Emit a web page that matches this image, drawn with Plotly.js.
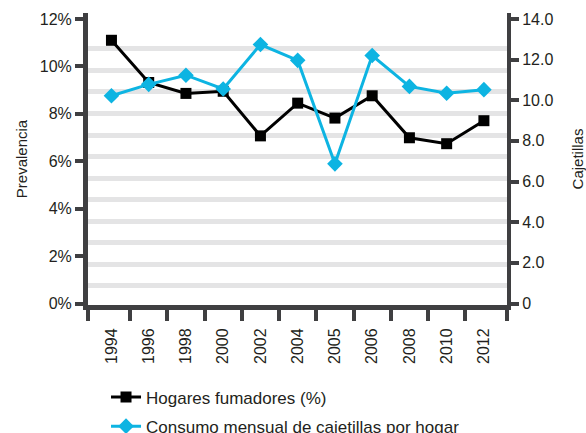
<!DOCTYPE html>
<html><head><meta charset="utf-8">
<script src="https://cdn.plot.ly/plotly-3.0.1.min.js"></script>
<style>html,body{margin:0;padding:0;background:#fff}#chart{width:586px;height:433px}</style>
</head><body><div id="chart"></div>
<script>
const years = ["1994","1996","1998","2000","2002","2004","2005","2006","2008","2010","2012"];
const hogaresFumadores = [11.1, 9.32, 8.86, 8.95, 7.07, 8.45, 7.82, 8.76, 6.99, 6.74, 7.71];
const consumoMensual = [10.22, 10.78, 11.23, 10.55, 12.74, 11.96, 6.87, 12.2, 10.68, 10.34, 10.52];
const leftTicks = [0, 2, 4, 6, 8, 10, 12];
const leftTickText = ["0%", "2%", "4%", "6%", "8%", "10%", "12%"];
const rightTicks = [0, 2, 4, 6, 8, 10, 12, 14];
const rightTickText = ["0", "2.0", "4.0", "6.0", "8.0", "10.0", "12.0", "14.0"];
const gridTicks = [1,2,3,4,5,6,7,8,9,10,11,12];
const dividerTicks = [-0.63, 0.5, 1.5, 2.5, 3.5, 4.5, 5.5, 6.5, 7.5, 8.5, 9.5, 10.62];

const FONT = "Liberation Sans, Arial, Helvetica, sans-serif";
const AX = "#3f3f41";
const CYAN = "#0db4e2";

const traces = [
  // empty helper trace so the divider-tick axis and grid axis get drawn (no data, no marks)
  {x: [], y: [], type: "scatter", mode: "markers", xaxis: "x2", yaxis: "y3", showlegend: false, hoverinfo: "skip"},
  {x: years, y: hogaresFumadores, name: "Hogares fumadores (%)", type: "scatter", mode: "lines+markers", legendgroup: "a",
   yaxis: "y", line: {color: "#000", width: 3}, marker: {symbol: "square", size: 11, color: "#000"}},
  {x: years, y: consumoMensual, name: "Consumo mensual de cajetillas por hogar", type: "scatter", mode: "lines+markers", legendgroup: "b",
   yaxis: "y2", line: {color: CYAN, width: 3}, marker: {symbol: "diamond", size: 12, color: CYAN}}
];

const layout = {
  width: 586, height: 433,
  margin: {l: 88, r: 78.5, t: 13, b: 127.5},
  paper_bgcolor: "#fff", plot_bgcolor: "rgba(0,0,0,0)",
  font: {family: FONT, size: 14, color: "#231f20"},
  showlegend: true,
  legend: {x: 0.043, xanchor: "left", y: 0.1235, yref: "container", yanchor: "top", font: {size: 17, color: "#231f20"},
           bgcolor: "rgba(0,0,0,0)", tracegroupgap: 4, itemwidth: 30},
  xaxis: {type: "category", range: [-0.63, 10.62], showgrid: false, zeroline: false, automargin: false,
          showline: true, linecolor: AX, linewidth: 5, ticks: "", tickangle: -90,
          tickfont: {size: 16}, ticklabelstandoff: 12, fixedrange: true},
  xaxis2: {overlaying: "x", anchor: "y", type: "linear", range: [-0.63, 10.62], showgrid: false, zeroline: false,
          showline: false, ticks: "outside", ticklen: 15, tickwidth: 4, tickcolor: AX, automargin: false,
          tickmode: "array", tickvals: dividerTicks, showticklabels: false, side: "bottom"},
  yaxis: {range: [-0.06, 12.25], tickmode: "array", tickvals: leftTicks, ticktext: leftTickText, automargin: false,
          showgrid: false, zeroline: false, showline: true, linecolor: AX, linewidth: 5,
          ticks: "outside", ticklen: 8, tickwidth: 4, tickcolor: AX, tickfont: {size: 16},
          title: {text: "Prevalencia", font: {size: 15}, standoff: 10}},
  yaxis2: {overlaying: "y", side: "right", range: [-0.073, 14.29], tickmode: "array", tickvals: rightTicks, ticktext: rightTickText,
          showgrid: false, zeroline: false, showline: true, linecolor: AX, linewidth: 4, automargin: false,
          ticks: "outside", ticklen: 8, tickwidth: 4, tickcolor: AX, tickfont: {size: 16},
          title: {text: "Cajetillas", font: {size: 15}, standoff: 22}},
  yaxis3: {overlaying: "y", range: [0.116, 13.66], tickmode: "array", tickvals: gridTicks, automargin: false,
          showgrid: true, gridcolor: "#e4e4e5", gridwidth: 5, zeroline: false, showline: false,
          showticklabels: false, ticks: ""}
};

Plotly.newPlot("chart", traces, layout, {staticPlot: true});
</script></body></html>
